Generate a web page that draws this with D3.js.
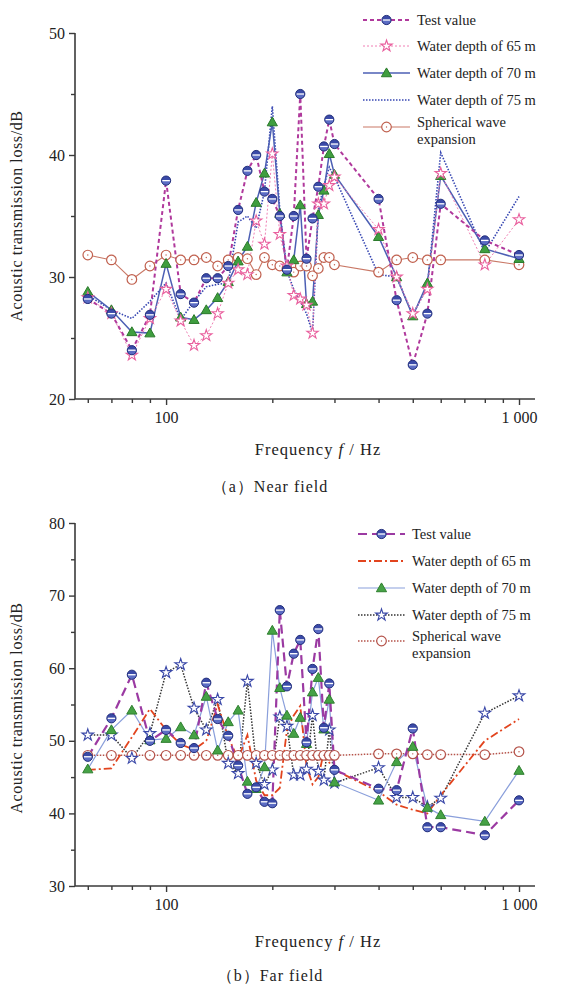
<!DOCTYPE html>
<html>
<head>
<meta charset="utf-8">
<script src="https://cdn.jsdelivr.net/npm/d3@7"></script>
<style>
  html, body { margin: 0; padding: 0; background: #fff; }
  svg text { font-family: "Liberation Serif", "Times New Roman", "DejaVu Serif", serif; fill: #222; }
</style>
</head>
<body>
<svg id="chart" width="569" height="984"></svg>
<script>
// Frequencies (Hz) shared by both panels
const freqs = [60,70,80,90,100,110,120,130,140,150,160,170,180,190,200,210,220,230,240,250,260,270,280,290,300,400,450,500,550,600,800,1000];

// (a) Near field — transmission loss, dB
const nearTest = [28.2,27.0,24.0,26.9,37.9,28.6,27.9,29.9,29.9,30.9,35.5,38.7,40.0,37.0,36.4,35.0,30.6,35.0,45.0,31.5,34.8,37.4,40.7,42.9,40.9,36.4,28.1,22.8,27.0,36.0,33.0,31.8];
const near65   = [28.3,27.0,23.6,26.6,29.0,26.4,24.4,25.2,27.0,29.5,30.6,30.2,34.6,32.7,40.1,33.5,30.9,28.5,28.2,27.7,25.4,36.0,36.0,37.5,38.2,33.9,30.0,27.0,29.0,38.5,31.0,34.7];
const near70   = [28.8,27.3,25.5,25.4,31.1,26.7,26.5,27.3,28.3,29.6,31.3,32.5,36.1,38.5,42.7,35.2,30.4,31.4,35.9,27.8,28.0,35.1,37.1,40.1,38.4,33.3,30.0,26.8,29.5,38.3,32.3,31.5];
const near75   = [28.5,27.3,26.6,28.0,29.5,26.5,28.0,29.2,29.4,29.5,34.5,35.0,34.0,37.0,44.0,35.5,30.5,29.0,28.0,27.0,25.4,35.5,37.5,39.0,38.2,30.2,30.0,26.9,29.2,40.2,32.0,36.6];
const nearSph  = [31.8,31.4,29.8,30.9,31.8,31.4,31.4,31.6,30.9,31.4,31.6,31.5,30.2,31.6,31.0,30.9,30.7,30.4,30.9,30.9,30.1,30.7,31.6,31.6,31.0,30.4,31.4,31.6,31.4,31.4,31.4,31.0];

// (b) Far field — transmission loss, dB
const farTest = [47.8,53.1,59.1,50.0,51.5,49.7,49.0,58.0,53.0,50.7,46.6,42.7,43.6,41.6,41.4,68.0,57.5,62.0,63.9,49.8,59.9,65.4,51.8,57.9,46.0,43.4,43.2,51.7,38.1,38.1,37.0,41.8];
const far65   = [46.0,46.2,50.5,54.4,51.5,49.5,48.8,50.0,55.0,50.5,47.5,50.8,44.5,42.5,42.5,43.5,51.5,53.5,54.8,46.5,44.0,45.0,48.5,47.0,46.0,43.0,41.2,40.5,40.0,42.5,50.0,53.0];
const far70   = [46.1,51.5,54.2,50.1,50.3,51.9,50.8,56.1,48.7,52.6,54.2,44.4,43.4,46.4,65.2,57.3,53.5,51.0,53.2,49.6,56.7,58.7,51.6,55.7,44.3,41.8,47.1,49.2,40.8,39.8,38.9,45.9];
const far75   = [50.8,50.8,47.6,51.0,59.4,60.5,54.5,51.5,55.7,46.9,45.5,58.2,46.9,44.0,46.0,53.3,52.0,45.3,45.3,46.1,53.5,45.8,44.6,51.5,44.2,46.3,42.2,42.2,40.9,42.1,53.8,56.2];
const farSph  = [48.0,48.0,48.0,48.0,48.0,48.0,48.0,48.0,48.0,48.0,48.0,48.0,48.0,48.0,48.0,48.0,48.0,48.0,48.0,48.0,48.0,48.0,48.0,48.0,48.0,48.2,48.2,48.2,48.1,48.1,48.1,48.5];

// Axis ticks and labels
const xMajor = [100, 1000];
const xMajorLabels = ["100", "1 000"];
const xMinor = [60,70,80,90,200,300,400,500,600,700,800,900];
const nearYMajor = [20,30,40,50];
const nearYMinor = [25,35,45];
const farYMajor = [30,40,50,60,70,80];
const farYMinor = [35,45,55,65,75];

const seriesNames = ["Test value", "Water depth of 65 m", "Water depth of 70 m", "Water depth of 75 m", "Spherical wave", "expansion"];

const svg = d3.select("#chart");
const SERIF = "Liberation Serif, Times New Roman, DejaVu Serif, serif";

// Marker painters
function markTest(g, r) {
  g.append("circle").attr("r", r).attr("fill", "#3a4aa8");
  g.append("path").attr("d", `M${-r},0A${r},${r} 0 0 0 ${r},0Z`).attr("fill", "#5b6cc4");
  g.append("line").attr("x1", -r + 0.8).attr("x2", r - 0.8).attr("y1", 0).attr("y2", 0)
    .attr("stroke", "#fff").attr("stroke-width", 1.3);
  g.append("circle").attr("r", r).attr("fill", "none").attr("stroke", "#24307c").attr("stroke-width", 1);
}
function markStar(g, color, area) {
  g.append("path").attr("d", d3.symbol(d3.symbolStar, area)())
    .attr("fill", "#fff").attr("stroke", color).attr("stroke-width", 1.1);
}
function markTri(g, fill, stroke, area) {
  g.append("path").attr("d", d3.symbol(d3.symbolTriangle, area)()).attr("transform", "translate(0,0.8)")
    .attr("fill", fill).attr("stroke", stroke).attr("stroke-width", 1);
}
function markSph(g, color, r) {
  g.append("circle").attr("r", r).attr("fill", "#fff").attr("stroke", color).attr("stroke-width", 1.2);
  g.append("circle").attr("r", 0.7).attr("fill", color);
}

function drawPanel(p) {
  const x = d3.scaleLog().domain([55.2, 1110]).range([75, 535]);
  const y = d3.scaleLinear().domain(p.yDomain).range(p.yRange);
  const g = svg.append("g");

  // x axis: line plus major/minor ticks pointing outward
  const xAx = g.append("g").attr("transform", `translate(0,${p.yRange[0]})`)
    .call(d3.axisBottom(x).tickValues(xMajor).tickSize(6).tickPadding(7).tickFormat((d, i) => xMajorLabels[i]));
  const xAxMinor = g.append("g").attr("transform", `translate(0,${p.yRange[0]})`)
    .call(d3.axisBottom(x).tickValues(xMinor).tickSize(4).tickFormat(""));
  xAxMinor.select(".domain").remove();

  const yAx = g.append("g").attr("transform", "translate(75,0)")
    .call(d3.axisLeft(y).tickValues(p.yMajor).tickSize(6).tickPadding(4));
  const yAxMinor = g.append("g").attr("transform", "translate(75,0)")
    .call(d3.axisLeft(y).tickValues(p.yMinor).tickSize(4).tickFormat(""));
  yAxMinor.select(".domain").remove();

  [xAx, xAxMinor, yAx, yAxMinor].forEach(a => {
    a.attr("font-family", SERIF);
    a.selectAll(".domain").attr("stroke", "#3a3a3a").attr("stroke-width", 1.6);
    a.selectAll(".tick line").attr("stroke", "#3a3a3a").attr("stroke-width", 1.4);
    a.selectAll("text").attr("font-size", 16).attr("fill", "#222");
  });
  xAx.select(".domain").attr("d", `M75,0H535`);
  yAx.select(".domain").attr("d", `M0,${p.yRange[0]}V${p.yRange[1]}`);

  // Lines
  const line = vals => d3.line().x((d, i) => x(freqs[i])).y(d => y(d))(vals);
  p.series.slice().reverse().forEach(s => {
    g.append("path").attr("d", line(s.values)).attr("fill", "none")
      .attr("stroke", s.stroke).attr("stroke-width", s.width)
      .attr("stroke-dasharray", s.dash || null);
  });

  // Markers
  p.series.slice().reverse().forEach(s => {
    if (!s.marker) return;
    s.values.forEach((v, i) => {
      s.marker(g.append("g").attr("transform", `translate(${x(freqs[i])},${y(v)})`));
    });
  });

  // Legend
  const lg = g.append("g");
  p.series.forEach((s, i) => {
    const yy = p.legendY[i];
    lg.append("line").attr("x1", p.legendX).attr("x2", p.legendX + 47).attr("y1", yy).attr("y2", yy)
      .attr("stroke", s.stroke).attr("stroke-width", s.width).attr("stroke-dasharray", s.dash || null);
    if (s.marker) s.marker(lg.append("g").attr("transform", `translate(${p.legendX + 23.5},${yy})`));
    lg.append("text").attr("x", p.legendX + 54).attr("y", i === 4 ? yy : yy + 5).attr("font-size", 14.5)
      .text(seriesNames[i]);
  });
  lg.append("text").attr("x", p.legendX + 54).attr("y", p.legendY[4] + 16.5).attr("font-size", 14.5)
    .text(seriesNames[5]);

  // Axis titles and caption
  g.append("text").attr("transform", `translate(${p.yTitleX},${p.yTitleY}) rotate(-90)`)
    .attr("text-anchor", "middle").attr("font-size", 16).attr("letter-spacing", 0.6)
    .text("Acoustic transmission loss/dB");
  const xt = g.append("text").attr("x", 318).attr("y", p.xTitleY).attr("text-anchor", "middle")
    .attr("font-size", 16.5).attr("letter-spacing", 1);
  xt.append("tspan").text("Frequency ");
  xt.append("tspan").attr("font-style", "italic").text("f");
  xt.append("tspan").text(" / Hz");
  g.append("text").attr("x", 270).attr("y", p.captionY).attr("text-anchor", "middle").attr("font-size", 16)
    .attr("letter-spacing", 1).text(p.caption);
}

drawPanel({
  yDomain: [20, 50], yRange: [399, 33],
  yMajor: nearYMajor, yMinor: nearYMinor,
  legendX: 363, legendY: [20, 46, 73, 100, 127],
  yTitleX: 22, yTitleY: 216, xTitleY: 455, captionY: 492,
  caption: "（a）Near field",
  series: [
    { values: nearTest, stroke: "#b0399c", width: 2, dash: "4,3", marker: g => markTest(g, 4.6) },
    { values: near65, stroke: "#f07fb4", width: 1, dash: "2,2", marker: g => markStar(g, "#e9609e", 40) },
    { values: near70, stroke: "#4c5fb4", width: 1.5, marker: g => markTri(g, "#3f9e3f", "#2a7a2a", 45) },
    { values: near75, stroke: "#3646b2", width: 1.6, dash: "1.5,1.5" },
    { values: nearSph, stroke: "#c97866", width: 1.1, marker: g => markSph(g, "#c0604e", 4.8) }
  ]
});

drawPanel({
  yDomain: [30, 80], yRange: [886, 523],
  yMajor: farYMajor, yMinor: farYMinor,
  legendX: 358, legendY: [534, 561, 588, 615, 641],
  yTitleX: 22, yTitleY: 708, xTitleY: 947, captionY: 981,
  caption: "（b）Far field",
  series: [
    { values: farTest, stroke: "#9b3aa2", width: 2.2, dash: "9,5", marker: g => markTest(g, 4.6) },
    { values: far65, stroke: "#e2441e", width: 1.8, dash: "8,3,2,3" },
    { values: far70, stroke: "#8a9fdb", width: 1.2, marker: g => markTri(g, "#45a245", "#2f7f2f", 45) },
    { values: far75, stroke: "#333333", width: 1.5, dash: "1.5,1.5", marker: g => markStar(g, "#3a48a8", 42) },
    { values: farSph, stroke: "#b5534a", width: 1.5, dash: "1.5,1.5", marker: g => markSph(g, "#b5534a", 4.8) }
  ]
});
</script>
</body>
</html>
